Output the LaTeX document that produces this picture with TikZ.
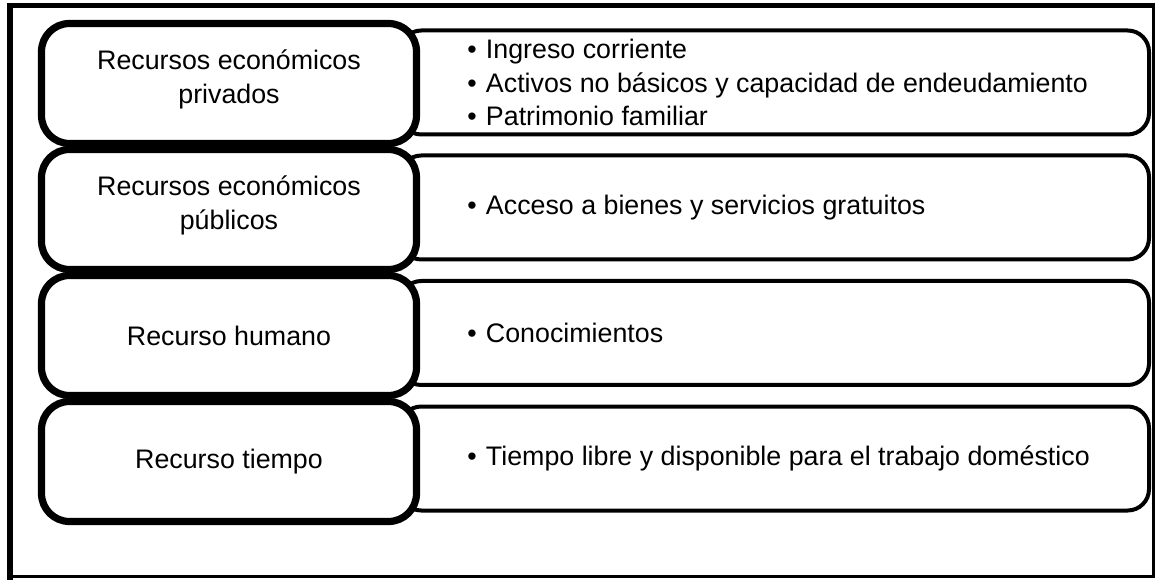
\documentclass[tikz,border=0pt]{standalone}
\usepackage{fontspec}
\setmainfont{Liberation Sans}
\newcommand{\itembullet}{•\hspace{7pt}}
\begin{document}
\begin{tikzpicture}[x=0.75pt,y=-0.75pt,
  catbox/.style={draw=black, fill=white, line width=5.4pt, rounded corners=21pt,
    minimum width=281.25pt, minimum height=90pt, inner sep=0pt},
  lbl/.style={font=\fontsize{20.1}{25.5}\selectfont, align=center, inner sep=0pt},
  itembox/.style={draw=black, fill=white, line width=3pt, rounded corners=16pt,
    minimum width=561.75pt, minimum height=78pt, inner sep=0pt},
  itm/.style={font=\fontsize{20.1}{25}\selectfont, align=left, anchor=west, inner sep=0pt},
  frameline/.style={line width=3.9pt},
  thinframe/.style={line width=1.9pt}]
\useasboundingbox (0,0) rectangle (1155,580);
% outer frame
\coordinate (fbl) at (10,580);
\coordinate (ftl) at (10,5.5);
\coordinate (ftr) at (1155,5.5);
\coordinate (frt) at (1153.5,3);
\coordinate (frb) at (1153.5,577);
\coordinate (fbr) at (1155,576.5);
\coordinate (fbl2) at (8,576.5);
\draw[thinframe] (frt) -- (frb);
\draw[thinframe] (fbl2) -- (fbr);
\draw[frameline] (fbl) -- (ftl) -- (ftr);
% right boxes
\node[itembox] (r1) at (774.5,82.5) {};
\node[itembox] (r2) at (774.5,207.5) {};
\node[itembox] (r3) at (774.5,333) {};
\node[itembox] (r4) at (774.5,458.5) {};
% left boxes
\node[catbox] (c1) at (229,83.5) {};
\node[catbox] (c2) at (229,209.5) {};
\node[catbox] (c3) at (229,335.5) {};
\node[catbox] (c4) at (229,461.5) {};
% left labels
\node[lbl] (l1) at (229,79) {Recursos económicos\\privados};
\node[lbl] (l2) at (229,205) {Recursos económicos\\públicos};
\node[lbl] (l3) at (229,335.5) {Recurso humano};
\node[lbl] (l4) at (229,461.5) {Recurso tiempo};
% item texts
\node[itm] (t1) at (467,82.5) {\itembullet Ingreso corriente\\\itembullet Activos no básicos y capacidad de endeudamiento\\\itembullet Patrimonio familiar};
\node[itm] (t2) at (467,207.5) {\itembullet Acceso a bienes y servicios gratuitos};
\node[itm] (t3) at (467,333) {\itembullet Conocimientos};
\node[itm] (t4) at (467,458.5) {\itembullet Tiempo libre y disponible para el trabajo doméstico};
\end{tikzpicture}
\end{document}
